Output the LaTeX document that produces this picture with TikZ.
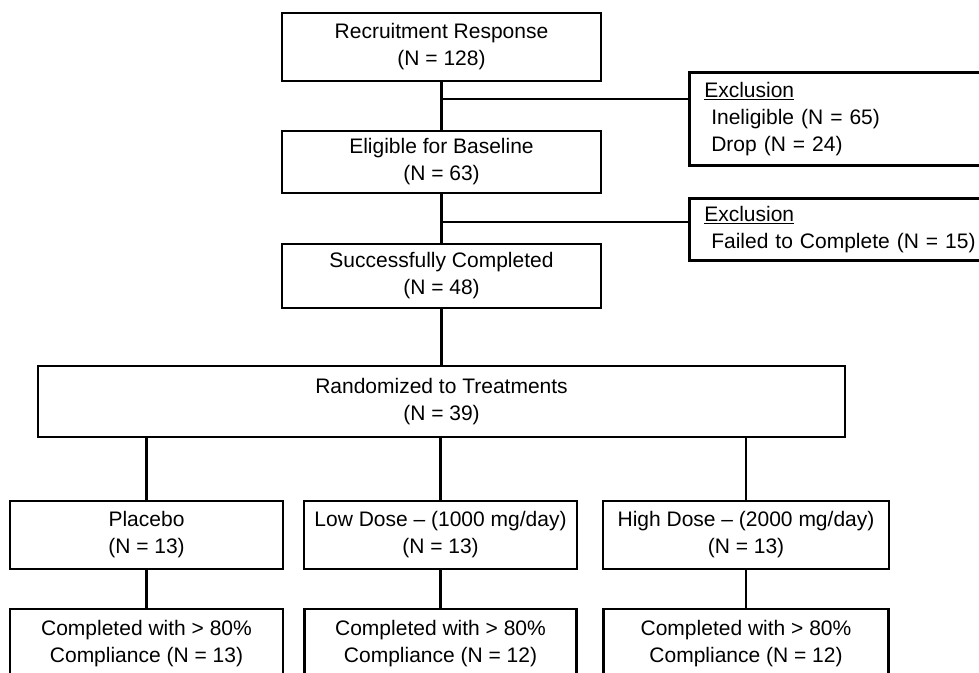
\documentclass[tikz,border=0pt]{standalone}
\usepackage{fontspec}
\setmainfont{Liberation Sans}
\usetikzlibrary{positioning}
\tikzset{%
  box/.style={draw,line width=2.5pt,align=center,inner sep=4pt,
    font=\fontsize{21}{27}\selectfont},
  excl/.style={box,align=left,anchor=north west,text width=280pt,
    inner xsep=15pt},
  link/.style={line width=2.3pt}
}

\begin{document}
\begin{tikzpicture}[x=1pt,y=-1pt]
  \useasboundingbox (0,0) rectangle (979,672);

  \node [box,minimum width=319pt,minimum height=68pt] (resp) at (441.5,47)
    {Recruitment Response\\(N = 128)};
  \node [box,minimum width=319pt,minimum height=62pt,below=47.5pt of resp] (elig)
    {Eligible for Baseline\\(N = 63)};
  \node [box,minimum width=319pt,minimum height=64pt,below=48.5pt of elig] (succ)
    {Successfully Completed\\(N = 48)};
  \node [box,minimum width=807pt,minimum height=71pt,below=55.5pt of succ] (rand)
    {Randomized to Treatments\\(N = 39)};

  \node [excl,minimum height=93pt] (excla) at (688,71)
    {\underline{Exclusion}\\\hspace*{7pt}Ineligible (N = 65)\\\hspace*{7pt}Drop (N = 24)};
  \node [excl,minimum height=62pt] (exclb) at (688,197)
    {\underline{Exclusion}\\\hspace*{7pt}Failed to Complete (N = 15)};

  \node [box,minimum width=273pt,minimum height=68pt] (plac) at (146.5,535)
    {Placebo\\(N = 13)};
  \node [box,minimum width=273pt,minimum height=68pt] (low) at (440.5,535)
    {Low Dose -- (1000 mg/day)\\(N = 13)};
  \node [box,minimum width=286pt,minimum height=68pt] (high) at (746,535)
    {High Dose -- (2000 mg/day)\\(N = 13)};

  \node [box,minimum width=273pt,minimum height=70pt,below=37.5pt of plac] (placc)
    {Completed with > 80\%\\Compliance (N = 13)};
  \node [box,minimum width=272pt,minimum height=70pt,below=37.5pt of low] (lowc)
    {Completed with > 80\%\\Compliance (N = 12)};
  \node [box,minimum width=285pt,minimum height=70pt,below=37.5pt of high] (highc)
    {Completed with > 80\%\\Compliance (N = 12)};

  \coordinate (fork1) at (441.5,99);
  \coordinate (fork2) at (441.5,222);

  \draw [link] (resp) -- (elig);
  \draw [link] (fork1) -- (fork1 -| excla.west);
  \draw [link] (elig) -- (succ);
  \draw [link] (fork2) -- (fork2 -| exclb.west);
  \draw [link] (succ) -- (rand);
  \foreach \grp/\done in {plac/placc,low/lowc,high/highc} {
    \draw [link] (\grp.north) -- (\grp.north |- rand.south);
    \draw [link] (\grp) -- (\done);
  }
\end{tikzpicture}
\end{document}
